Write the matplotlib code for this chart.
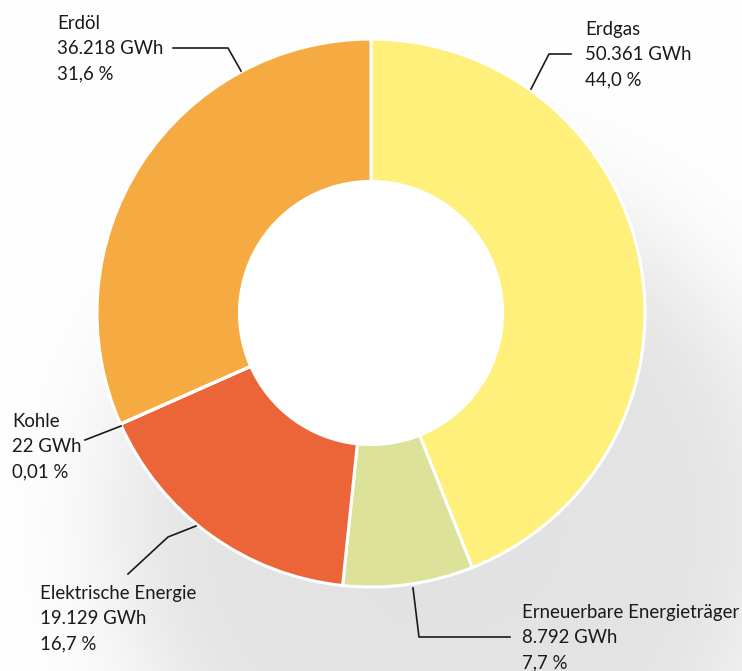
import numpy as np
import matplotlib.pyplot as plt
from matplotlib.patches import Circle

# Endenergieverbrauch nach Energieträgern
names = ["Erdgas", "Erneuerbare Energieträger", "Elektrische Energie", "Kohle", "Erdöl"]
gwh = [50361, 8792, 19129, 22, 36218]
gwh_labels = ["50.361 GWh", "8.792 GWh", "19.129 GWh", "22 GWh", "36.218 GWh"]
pct_labels = ["44,0 %", "7,7 %", "16,7 %", "0,01 %", "31,6 %"]
colors = ["#FEF07B", "#DCE29A", "#EB6538", "#8A8A8A", "#F5AA42"]

W, H = 742, 671
plt.rcParams['font.family'] = ['Lato', 'DejaVu Sans']

fig = plt.figure(figsize=(W / 100, H / 100), dpi=100)
ax = fig.add_axes([0, 0, 1, 1])

# soft grey shadow in the background
yy, xx = np.mgrid[0:H, 0:W]
d = np.hypot(xx - 450, (H - yy) - 520)
shade = 1 - 0.11 / (1 + np.exp((d - 335) / 35))
ax.imshow(np.dstack([shade] * 3), extent=(0, W, 0, H), origin='lower', zorder=0)

cx, cy, R = 371, H - 313, 274
ax.pie(gwh, colors=colors, startangle=90, counterclock=False,
       center=(cx, cy), radius=R, frame=True,
       wedgeprops=dict(width=R * 0.52, edgecolor='white', linewidth=2.2))
ax.add_patch(Circle((cx, cy), R * 0.48 - 1, color='white', zorder=0.5))
ax.set_xlim(0, W)
ax.set_ylim(0, H)
ax.set_aspect('equal')
ax.axis('off')

# leader lines (pixel layout, y from top)
leaders = [
    [(531, 89), (549, 54), (571, 54)],
    [(413, 588), (419, 637), (510, 637)],
    [(196, 526), (168, 537), (128, 574)],
    [(121, 426), (85, 440)],
    [(241, 71), (228, 48), (173, 48)],
]
# centre of the first text line
text_pos = [(585, 28), (522, 611), (40, 592), (12, 420), (57, 22)]

for name, g, p, pts, (tx, ty) in zip(names, gwh_labels, pct_labels, leaders, text_pos):
    xs = [q[0] for q in pts]
    ys = [H - q[1] for q in pts]
    ax.plot(xs, ys, color='#1a1a1a', lw=1.2, zorder=3)
    ax.text(tx, H - ty + 7, name + "\n" + g + "\n" + p, fontsize=13.4, color='#1a1a1a',
            ha='left', va='top', linespacing=1.57, zorder=4)

fig.savefig("out.png", dpi=100)
